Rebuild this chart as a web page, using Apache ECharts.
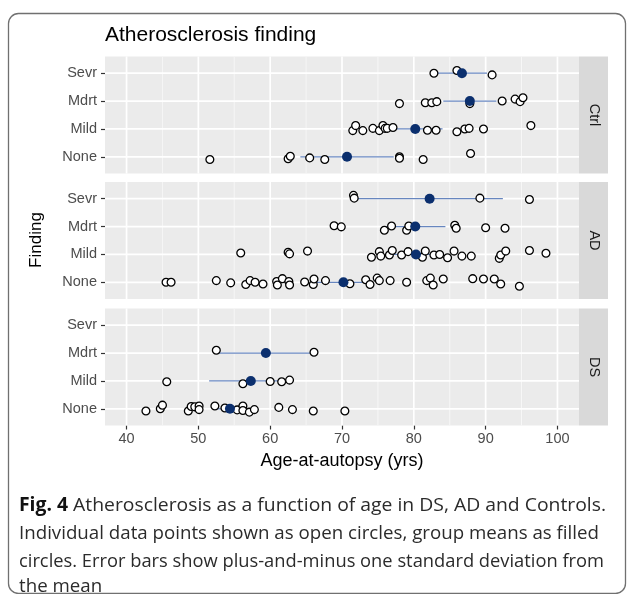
<!DOCTYPE html>
<html><head><meta charset="utf-8">
<script src="https://cdn.jsdelivr.net/npm/echarts@6/dist/echarts.min.js"></script>
<style>html,body{margin:0;padding:0;background:#fff}#c{width:630px;height:594px}</style>
</head><body><div id="c"></div>
<script>
// ---- categories / ticks ----
const findings = ['None', 'Mild', 'Mdrt', 'Sevr'];   // y positions 1..4
const panels = ['Ctrl', 'AD', 'DS'];
const xTicks = [40, 50, 60, 70, 80, 90, 100];
const xMinor = [45, 55, 65, 75, 85, 95];
const yTicks = [1, 2, 3, 4];

// ---- individual points: [age, vertical jitter] ----
const ctrlNone = [[51.6,-0.10],[62.5,-0.07],[62.8,0.02],[65.5,-0.04],[67.6,-0.10],[78.0,0.00],[78.0,-0.05],[81.3,-0.10],[87.9,0.12]];
const ctrlMild = [[71.5,-0.06],[71.9,0.12],[72.9,-0.06],[74.3,0.02],[75.2,-0.06],[75.7,0.12],[76.0,0.02],[76.3,0.02],[77.1,0.05],[81.9,-0.05],[83.1,-0.05],[86.0,-0.10],[87.1,0.00],[87.7,0.02],[89.7,0.00],[96.3,0.12]];
const ctrlMdrt = [[78.0,-0.09],[81.6,-0.06],[82.5,-0.06],[83.2,-0.02],[87.8,-0.09],[92.3,0.00],[94.1,0.07],[94.8,-0.02],[95.2,0.12]];
const ctrlSevr = [[82.8,0.00],[86.0,0.10],[90.9,-0.06]];

const adNone = [[45.5,0.00],[46.2,0.00],[52.5,0.06],[54.5,-0.02],[56.6,-0.08],[57.2,0.06],[57.9,0.00],[59.0,-0.06],[60.9,0.03],[61.0,-0.10],[61.7,0.13],[62.6,0.03],[62.7,-0.10],[64.8,0.01],[66.0,-0.08],[66.1,0.12],[67.7,0.06],[71.1,-0.05],[73.3,0.09],[73.9,-0.08],[74.9,0.15],[75.2,0.06],[76.7,0.06],[79.0,0.00],[81.8,0.06],[82.3,0.15],[82.7,-0.10],[84.1,0.12],[88.2,0.13],[89.7,0.12],[91.2,0.12],[92.1,-0.06],[94.7,-0.14]];
const adMild = [[55.9,0.05],[62.5,0.08],[62.7,0.02],[65.2,0.12],[74.1,-0.10],[75.2,0.10],[75.4,-0.06],[76.6,-0.02],[77.0,0.14],[78.3,-0.02],[79.2,0.10],[81.2,-0.10],[81.6,0.12],[82.8,-0.02],[83.6,0.00],[84.7,-0.12],[85.6,0.12],[86.7,-0.06],[88.0,-0.06],[91.9,-0.14],[92.1,-0.02],[92.8,0.12],[96.1,0.14],[98.4,0.04]];
const adMdrt = [[68.9,0.03],[69.9,-0.01],[75.9,-0.13],[76.9,0.02],[79.0,-0.13],[79.3,0.02],[85.7,0.05],[85.9,-0.06],[90.0,-0.04],[92.7,-0.06]];
const adSevr = [[71.6,0.12],[71.7,0.02],[89.2,0.02],[96.1,-0.03]];

const dsNone = [[42.7,-0.08],[44.7,0.00],[45.0,0.13],[48.6,-0.08],[49.0,0.08],[49.5,0.07],[50.1,0.10],[50.1,-0.03],[52.3,0.10],[53.7,0.03],[55.4,-0.04],[56.2,0.10],[56.2,-0.06],[57.1,-0.12],[57.8,-0.03],[61.2,0.05],[63.1,-0.03],[66.0,-0.08],[70.4,-0.08]];
const dsMild = [[45.6,-0.03],[56.2,-0.10],[60.0,-0.02],[61.6,-0.03],[62.7,0.03]];
const dsMdrt = [[52.5,0.10],[66.1,0.03]];
const dsSevr = [];

// ---- group means and SDs (None, Mild, Mdrt, Sevr) ----
const ctrlMean = [70.7, 80.2, 87.8, 86.7];
const ctrlSD   = [6.5, 3.8, 3.7, 3.5];
const adMean   = [70.2, 80.3, 80.2, 82.2];
const adSD     = [3.8, 3.3, 4.2, 10.2];
const dsMean   = [54.4, 57.3, 59.4, null];
const dsSD     = [2.2, 5.8, 6.75, null];

// ---- assemble ----
const panelPoints = [
  [ctrlNone, ctrlMild, ctrlMdrt, ctrlSevr],
  [adNone, adMild, adMdrt, adSevr],
  [dsNone, dsMild, dsMdrt, dsSevr]
];
const panelMeans = [ctrlMean, adMean, dsMean];
const panelSDs = [ctrlSD, adSD, dsSD];

const X_MIN = 37, X_MAX = 103, Y_MIN = 0.4, Y_MAX = 4.6;
const gridTops = [56.5, 182, 308.5];
const gridH = 117, gridLeft = 105, gridW = 474;
const FONT = 'Liberation Sans, Arial, sans-serif';

function segSeries(i, data, z, color, width) {
  // data rows: [x1, y1, x2, y2]
  return {type: 'custom', xAxisIndex: i, yAxisIndex: i, z: z, silent: true, animation: false,
    encode: {x: [0, 2], y: [1, 3]}, data: data, clip: false,
    renderItem: (params, api) => {
      const a = api.coord([api.value(0), api.value(1)]);
      const b = api.coord([api.value(2), api.value(3)]);
      return {type: 'line', shape: {x1: a[0], y1: a[1], x2: b[0], y2: b[1]},
        style: {stroke: color, lineWidth: width, fill: null, opacity: 1}};
    }};
}

const grids = [], xAxes = [], yAxes = [], series = [], graphics = [];
panels.forEach((p, i) => {
  grids.push({left: gridLeft, top: gridTops[i], width: gridW, height: gridH, show: true,
    backgroundColor: '#ebebeb', borderWidth: 0});
  const last = i === panels.length - 1;
  xAxes.push({type: 'value', gridIndex: i, min: X_MIN, max: X_MAX,
    axisLine: {show: false}, splitLine: {show: false},
    axisTick: {show: last, customValues: xTicks, length: 4, lineStyle: {color: '#333', width: 1.2}},
    axisLabel: {show: last, customValues: xTicks, margin: 6, color: '#4d4d4d', fontSize: 14.5, fontFamily: FONT}});
  yAxes.push({type: 'value', gridIndex: i, min: Y_MIN, max: Y_MAX,
    axisLine: {show: false}, splitLine: {show: false},
    axisTick: {show: true, customValues: yTicks, length: 4, lineStyle: {color: '#333', width: 1.2}},
    axisLabel: {customValues: yTicks, margin: 8, color: '#4d4d4d', fontSize: 14.5, fontFamily: FONT,
      formatter: v => findings[Math.round(v) - 1]}});

  // grid lines
  series.push(segSeries(i, xMinor.map(v => [v, Y_MIN, v, Y_MAX]), 1, '#f7f7f7', 0.9));
  series.push(segSeries(i, xTicks.map(v => [v, Y_MIN, v, Y_MAX]), 1, '#ffffff', 1.7));
  series.push(segSeries(i, yTicks.map(v => [X_MIN, v, X_MAX, v]), 1, '#ffffff', 1.7));

  // error bars (mean +/- sd)
  const bars = [];
  panelMeans[i].forEach((m, k) => { if (m != null) bars.push([m - panelSDs[i][k], k + 1, m + panelSDs[i][k], k + 1]); });
  series.push(segSeries(i, bars, 2, '#6786bf', 1.3));

  // individual points
  const pts = [];
  panelPoints[i].forEach((row, k) => row.forEach(d => pts.push([d[0], k + 1 + d[1]])));
  series.push({type: 'scatter', xAxisIndex: i, yAxisIndex: i, z: 3, silent: true, animation: false,
    symbol: 'circle', symbolSize: 7.8, data: pts,
    itemStyle: {color: '#ffffff', borderColor: '#000000', borderWidth: 1.3, opacity: 1}});

  // means
  const mpts = [];
  panelMeans[i].forEach((m, k) => { if (m != null) mpts.push([m, k + 1]); });
  series.push({type: 'scatter', xAxisIndex: i, yAxisIndex: i, z: 4, silent: true, animation: false,
    symbol: 'circle', symbolSize: 10, data: mpts,
    itemStyle: {color: '#0b2f6e', opacity: 1}});

  // facet strip
  graphics.push({type: 'rect', shape: {x: gridLeft + gridW, y: gridTops[i], width: 29, height: gridH},
    style: {fill: '#d9d9d9'}, silent: true});
  graphics.push({type: 'text', x: gridLeft + gridW + 14.5, y: gridTops[i] + gridH / 2, rotation: -Math.PI / 2,
    style: {text: p, fill: '#1a1a1a', fontSize: 14.5, fontFamily: FONT, align: 'center', verticalAlign: 'middle'},
    silent: true});
});

// axis titles
graphics.push({type: 'text', x: 36, y: 240, rotation: Math.PI / 2,
  style: {text: 'Finding', fill: '#000', fontSize: 17, fontFamily: FONT, align: 'center', verticalAlign: 'middle'}});
graphics.push({type: 'text', x: 342, y: 461,
  style: {text: 'Age-at-autopsy (yrs)', fill: '#000', fontSize: 18, fontFamily: FONT, align: 'center', verticalAlign: 'middle'}});

// outer rounded frame
graphics.push({type: 'rect', shape: {x: 8.5, y: 13.5, width: 617, height: 580, r: 10},
  style: {fill: 'none', stroke: '#707070', lineWidth: 1.3}, silent: true, z: -1});

// caption
const capFont = '"Open Sans", "Noto Sans", sans-serif';
const capSize = 19;
const capLines = [
  {bold: 'Fig. 4', text: ' Atherosclerosis as a function of age in DS, AD and Controls.', w: 587},
  {bold: '', text: 'Individual data points shown as open circles, group means as filled', w: 580},
  {bold: '', text: 'circles. Error bars show plus-and-minus one standard deviation from', w: 585},
  {bold: '', text: 'the mean', w: 0}
];
const capY = [506, 534, 562, 587];
const cv = document.createElement('canvas').getContext('2d');
let scale0 = 1;
capLines.forEach((ln, j) => {
  cv.font = 'bold ' + capSize + 'px ' + capFont;
  let w = ln.bold ? cv.measureText(ln.bold).width : 0;
  cv.font = capSize + 'px ' + capFont;
  w += cv.measureText(ln.text).width;
  const s = ln.w ? ln.w / w : scale0;
  if (j === 1) scale0 = s;
  const txt = (ln.bold ? '{b|' + ln.bold + '}' : '') + ln.text;
  graphics.push({type: 'text', x: 19, y: capY[j], scaleX: s,
    style: {text: txt, fill: '#2b2b2b', fontSize: capSize, fontFamily: capFont, align: 'left', verticalAlign: 'middle',
      rich: {b: {fontWeight: 'bold', fill: '#111', fontSize: capSize, fontFamily: capFont}}}});
});

const chart = echarts.init(document.getElementById('c'), null, {renderer: 'canvas'});
chart.setOption({
  animation: false,
  backgroundColor: '#ffffff',
  title: {text: 'Atherosclerosis finding', left: 100, top: 20,
    textStyle: {fontSize: 21, fontWeight: 'normal', color: '#000', fontFamily: FONT}},
  grid: grids, xAxis: xAxes, yAxis: yAxes, series: series, graphic: graphics
});
</script></body></html>
